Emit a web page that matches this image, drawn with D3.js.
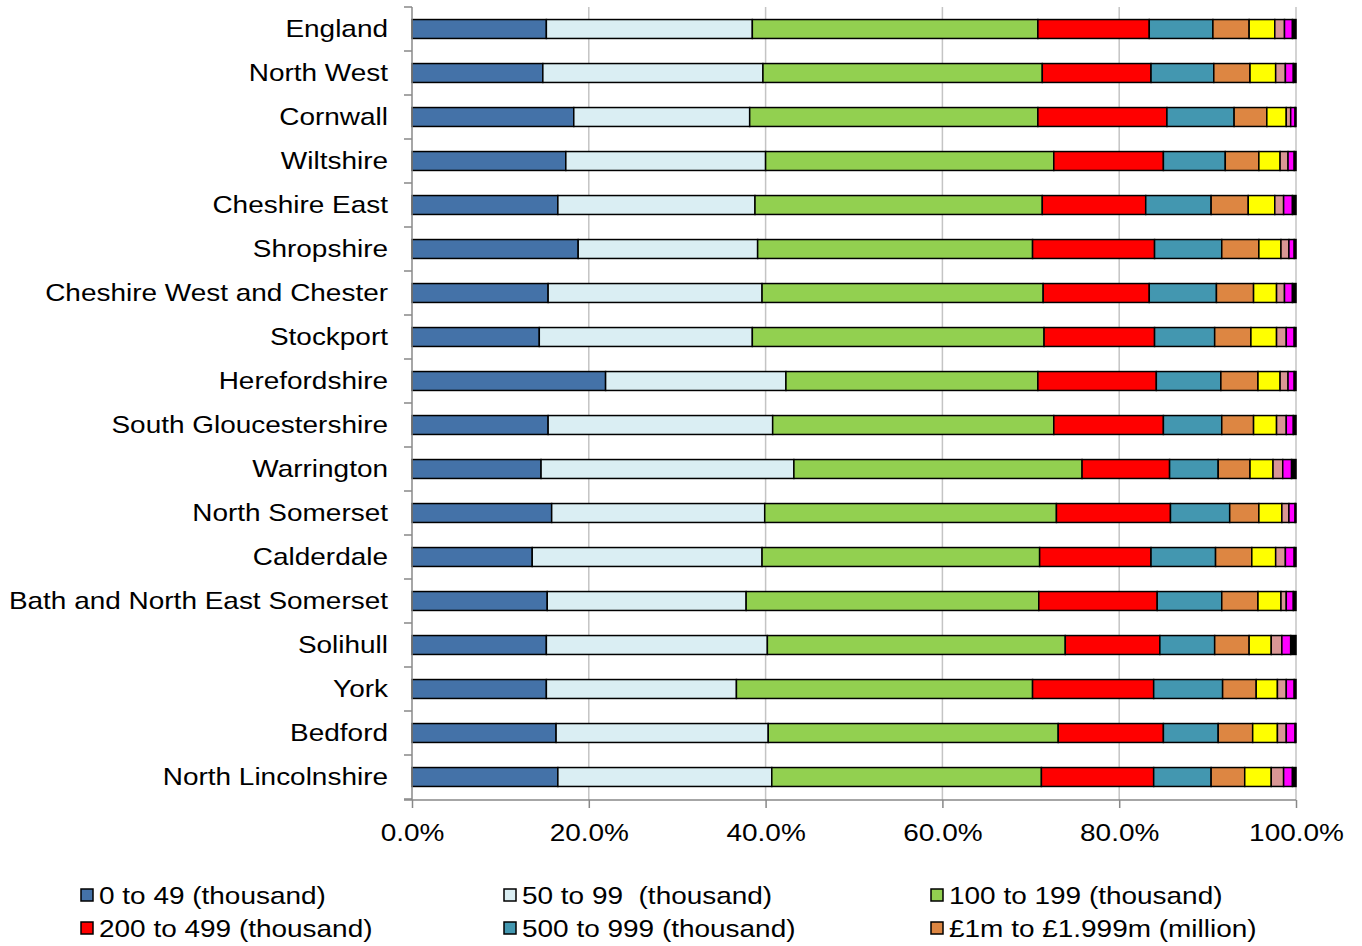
<!DOCTYPE html>
<html><head><meta charset="utf-8">
<script src="https://cdn.jsdelivr.net/npm/d3@7"></script>
<style>body{margin:0;background:#fff}svg{display:block;font-family:"Liberation Sans",Arial,sans-serif}text{white-space:pre}</style>
</head><body><svg id="c" width="1362" height="946"></svg>
<script>
const categories = ["England","North West","Cornwall","Wiltshire","Cheshire East","Shropshire","Cheshire West and Chester","Stockport","Herefordshire","South Gloucestershire","Warrington","North Somerset","Calderdale","Bath and North East Somerset","Solihull","York","Bedford","North Lincolnshire"];
const seriesNames = ["0 to 49 (thousand)","50 to 99  (thousand)","100 to 199 (thousand)","200 to 499 (thousand)","500 to 999 (thousand)","£1m to £1.999m (million)","£2m to £4.999m (million)","£5m to £9.999m (million)","£10m to £49.999m (million)","£50m+ (million)"];
const seriesColors = ["#4472A8","#DAEEF3","#92D050","#FF0000","#4397B0","#DD8642","#FFFF00","#D99694","#FF00FF","#000000"];
const s0 = [15.2,14.8,18.3,17.4,16.5,18.8,15.4,14.4,21.9,15.4,14.6,15.8,13.6,15.3,15.2,15.2,16.3,16.5];
const s1 = [23.3,24.9,19.9,22.6,22.3,20.3,24.2,24.1,20.4,25.4,28.6,24.1,26.0,22.5,25.0,21.5,24.0,24.2];
const s2 = [32.3,31.6,32.6,32.6,32.5,31.1,31.8,33.0,28.5,31.8,32.6,33.0,31.4,33.1,33.7,33.5,32.8,30.5];
const s3 = [12.6,12.3,14.6,12.4,11.7,13.8,12.0,12.5,13.4,12.4,9.9,12.9,12.6,13.4,10.7,13.7,11.9,12.7];
const s4 = [7.2,7.1,7.6,7.0,7.4,7.6,7.6,6.8,7.3,6.6,5.5,6.7,7.3,7.3,6.2,7.8,6.2,6.5];
const s5 = [4.1,4.1,3.7,3.8,4.2,4.2,4.2,4.1,4.2,3.6,3.6,3.3,4.1,4.1,3.9,3.8,3.9,3.8];
const s6 = [2.9,2.9,2.2,2.4,3.0,2.5,2.6,2.9,2.5,2.6,2.6,2.6,2.7,2.6,2.5,2.4,2.8,3.0];
const s7 = [1.1,1.1,0.5,0.9,1.0,0.9,0.9,1.1,0.9,1.1,1.1,0.8,1.1,0.6,1.2,1.0,1.0,1.4];
const s8 = [0.9,0.9,0.5,0.7,1.0,0.6,0.9,0.9,0.7,0.8,1.0,0.7,1.0,0.8,1.0,0.9,1.0,1.0];
const s9 = [0.4,0.3,0.1,0.2,0.4,0.2,0.4,0.2,0.2,0.3,0.5,0.1,0.2,0.3,0.6,0.2,0.1,0.4];
const tickValues = [0,20,40,60,80,100];
const legendShown = 6; // the reference legend is cut after its first six entries

const series = [s0,s1,s2,s3,s4,s5,s6,s7,s8,s9];
const rows = categories.map((c,i)=>{
  const o = {cat:c};
  const tot = series.reduce((a,s)=>a+s[i],0);
  series.forEach((s,k)=>o["k"+k]=s[i]/tot*100);
  return o;
});
const keys = series.map((s,k)=>"k"+k);
const stack = d3.stack().keys(keys)(rows);

const SX = 1.165; // horizontal text stretch seen in the reference
const svg = d3.select("#c");
const x = d3.scaleLinear().domain([0,100]).range([412,1296]);
const y = d3.scaleBand().domain(categories).range([7,799]).paddingInner(0.57).paddingOuter(0.285);
const axisCol = "#888";

// gridlines
svg.append("g").selectAll("line").data(tickValues.slice(1)).join("line")
  .attr("x1",d=>x(d)).attr("x2",d=>x(d)).attr("y1",7).attr("y2",800)
  .attr("stroke","#C4C4C4").attr("stroke-width",1.5);

// bars
svg.append("g").selectAll("g").data(stack).join("g")
  .attr("fill",(d,i)=>seriesColors[i])
  .selectAll("rect").data(d=>d).join("rect")
  .attr("x",d=>x(d[0])).attr("width",d=>Math.max(0,x(d[1])-x(d[0])))
  .attr("y",d=>y(d.data.cat)).attr("height",y.bandwidth())
  .attr("stroke","#000").attr("stroke-width",1.5);

// y axis
const band = y.step();
const ya = svg.append("g");
ya.append("line").attr("x1",412).attr("x2",412).attr("y1",7).attr("y2",800).attr("stroke",axisCol).attr("stroke-width",1.5);
ya.selectAll("line.t").data(d3.range(categories.length+1)).join("line").attr("class","t")
  .attr("x1",404).attr("x2",412).attr("y1",i=>7+i*band).attr("y2",i=>7+i*band)
  .attr("stroke",axisCol).attr("stroke-width",1.5);
ya.selectAll("text").data(categories).join("text")
  .attr("transform",d=>`translate(388,${y(d)+y.bandwidth()/2}) scale(${SX},1)`)
  .attr("dy","0.35em")
  .attr("text-anchor","end").attr("font-size",24).attr("fill","#000").text(d=>d);

// x axis
const xa = svg.append("g").attr("transform","translate(0,800)")
  .call(d3.axisBottom(x).tickValues(tickValues).tickSize(8).tickFormat(d=>d.toFixed(1)+"%"));
xa.select(".domain").attr("stroke",axisCol).attr("stroke-width",1.5).attr("d","M404,0H1296");
xa.selectAll(".tick line").attr("stroke",axisCol).attr("stroke-width",1.5);
xa.selectAll(".tick text").attr("font-size",24).attr("fill","#000").attr("font-family","Liberation Sans, Arial, sans-serif")
  .attr("dy",0).attr("y",null).attr("transform",`translate(0,41) scale(${SX},1)`);

// legend
const colX = [80,503,930];
const leg = svg.append("g");
const li = leg.selectAll("g").data(seriesNames.slice(0,legendShown)).join("g")
  .attr("transform",(d,i)=>`translate(${colX[i%3]},${896+Math.floor(i/3)*33})`);
li.append("rect").attr("x",1).attr("y",-7).attr("width",12).attr("height",12)
  .attr("fill",(d,i)=>seriesColors[i]).attr("stroke","#000").attr("stroke-width",1.5);
li.append("text").attr("transform",`translate(19,0) scale(${SX},1)`).attr("dy","0.35em").attr("font-size",24).attr("fill","#000").text(d=>d);
</script></body></html>
